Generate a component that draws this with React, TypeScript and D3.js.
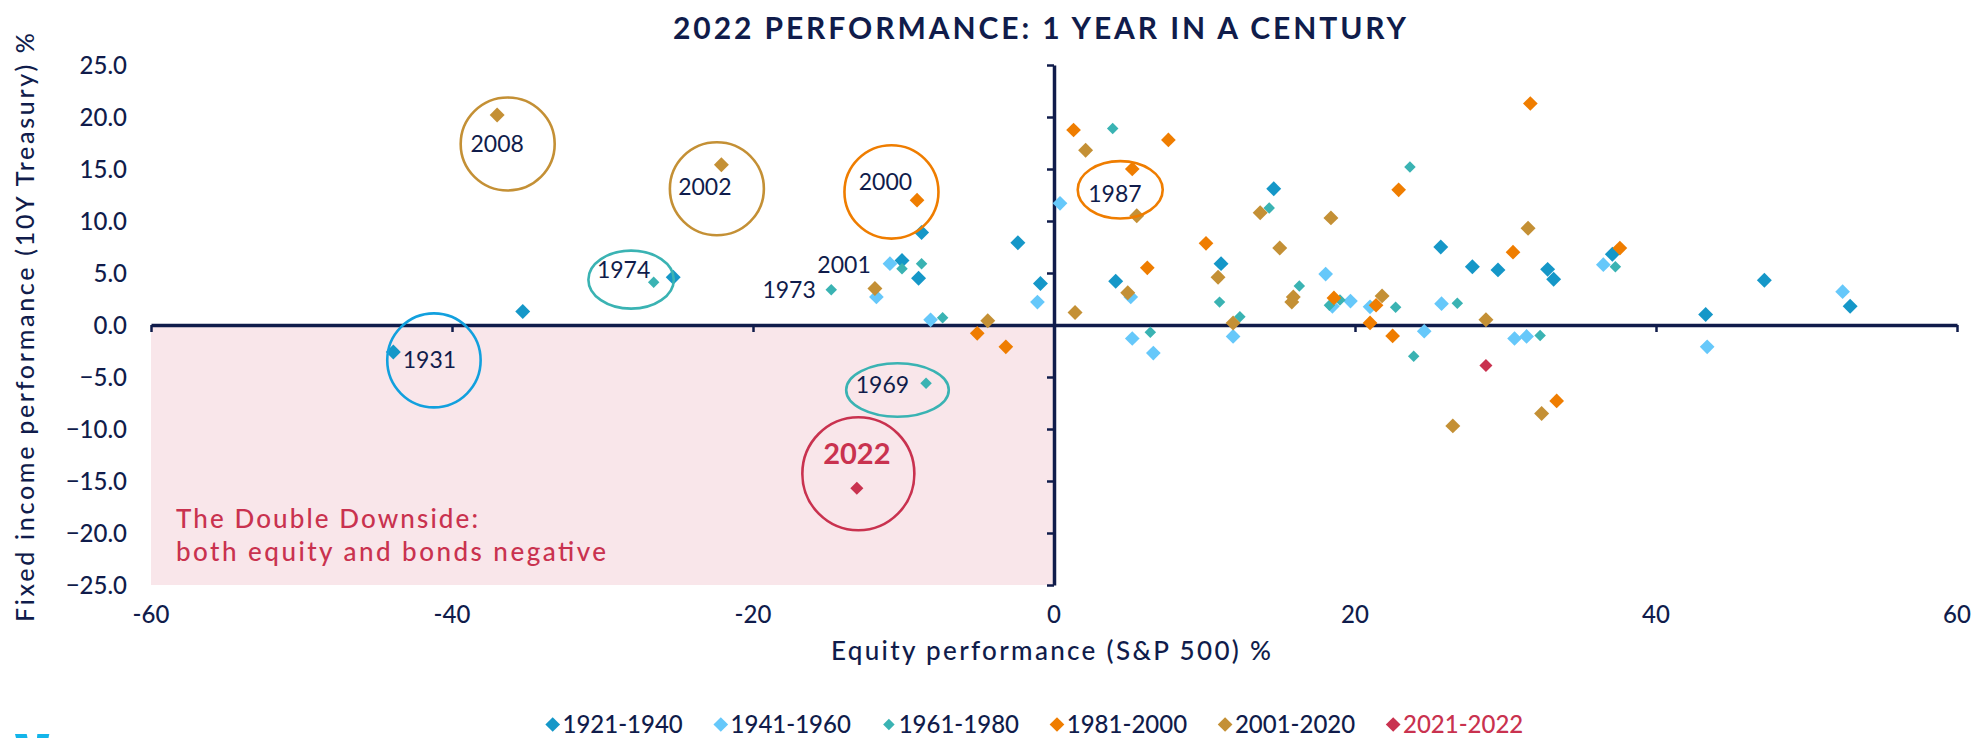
import React, { useEffect, useRef } from "react";
import * as d3 from "d3";

const NAVY = "#101c4b";
const CRIMSON = "#c9324f";

// legend / series
const seriesNames = ["1921-1940", "1941-1960", "1961-1980", "1981-2000", "2001-2020", "2021-2022"];
const seriesColors = ["#1597c8", "#66c8fa", "#3ab3b3", "#ef7d00", "#c49035", CRIMSON];

// [equity %, 10Y treasury %]
const s1921: [number, number][] = [
  [-43.9, -2.6], [-35.3, 1.3], [-25.3, 4.6], [-10.1, 6.2], [-9.0, 4.5], [-8.8, 8.9], [-2.4, 7.9],
  [-0.9, 4.0], [4.1, 4.2], [11.1, 5.9], [14.6, 13.1], [25.7, 7.5], [27.8, 5.6], [29.5, 5.3],
  [32.8, 5.35], [33.2, 4.4], [37.1, 6.8], [43.3, 1.0], [47.2, 4.3], [52.9, 1.8],
];
const s1941: [number, number][] = [
  [-10.9, 5.9], [-11.8, 2.7], [-8.2, 0.5], [-1.1, 2.2], [0.4, 11.7], [5.1, 2.7], [5.2, -1.3],
  [6.6, -2.7], [11.9, -1.1], [18.05, 4.9], [18.5, 1.8], [19.7, 2.3], [21.0, 1.75], [24.6, -0.6],
  [25.75, 2.05], [30.6, -1.3], [31.4, -1.1], [36.5, 5.8], [43.4, -2.1], [52.4, 3.2],
];
const s1961: [number, number][] = [
  [-26.6, 4.1], [-14.8, 3.4], [-10.1, 5.4], [-8.8, 5.9], [-7.4, 0.7], [-8.5, -5.6], [3.9, 18.9],
  [6.4, -0.7], [11.0, 2.2], [12.35, 0.8], [14.3, 11.25], [16.3, 3.75], [18.3, 1.9], [19.0, 2.4],
  [22.7, 1.7], [23.65, 15.2], [23.9, -3.0], [26.8, 2.1], [32.3, -1.0], [37.3, 5.6],
];
const s1981: [number, number][] = [
  [-9.1, 12.0], [-5.1, -0.8], [-3.2, -2.1], [1.3, 18.75], [5.2, 15.0], [6.2, 5.5], [7.6, 17.8],
  [10.1, 7.85], [18.6, 2.6], [21.0, 0.2], [21.4, 1.9], [22.5, -1.05], [22.9, 13.0], [30.5, 7.0],
  [31.65, 21.3], [33.4, -7.3], [37.6, 7.4],
];
const s2001: [number, number][] = [
  [-37.0, 20.2], [-22.1, 15.4], [-11.9, 3.5], [-4.4, 0.4], [1.4, 1.2], [2.1, 16.8], [4.9, 3.1],
  [5.5, 10.5], [10.9, 4.6], [11.9, 0.2], [13.7, 10.8], [15.0, 7.4], [15.9, 2.7], [15.8, 2.2],
  [18.4, 10.3], [21.8, 2.8], [26.5, -9.7], [28.7, 0.5], [31.5, 9.3], [32.4, -8.5],
];
const s2021: [number, number][] = [[28.7, -3.9], [-13.1, -15.7]];

const allSeries = [s1921, s1941, s1961, s1981, s2001, s2021];
const markerArea = [112, 108, 66, 108, 112, 85];

const xTicks = [-60, -40, -20, 0, 20, 40, 60];
const yTicks = d3.range(-25, 26, 5);

// circled / labelled years (label and ellipse centre in data units, radii in px)
const callouts = [
  { text: "2008", lx: -37.0, ly: 17.4, cx: -36.3, cy: 17.4, rx: 47, ry: 46.5, color: "#c49035" },
  { text: "2002", lx: -23.2, ly: 13.3, cx: -22.4, cy: 13.1, rx: 47, ry: 46.5, color: "#c49035" },
  { text: "2000", lx: -11.2, ly: 13.8, cx: -10.8, cy: 12.8, rx: 47, ry: 46.7, color: "#ef7d00" },
  { text: "1974", lx: -28.6, ly: 5.36, cx: -28.1, cy: 4.36, rx: 42.7, ry: 29, color: "#3ab3b3" },
  { text: "1987", lx: 4.05, ly: 12.6, cx: 4.4, cy: 13.0, rx: 42.5, ry: 28.7, color: "#ef7d00" },
  { text: "1931", lx: -41.5, ly: -3.3, cx: -41.2, cy: -3.4, rx: 46.7, ry: 47, color: "#12a0de" },
  { text: "1969", lx: -11.4, ly: -5.7, cx: -10.4, cy: -6.25, rx: 51.3, ry: 26.7, color: "#3ab3b3" },
  { text: "2001", lx: -13.95, ly: 5.77 },
  { text: "1973", lx: -17.6, ly: 3.37 },
];

export default function App() {
  const ref = useRef<SVGSVGElement>(null);

  useEffect(() => {
    const svg = d3.select(ref.current);
    svg.selectAll("*").remove();

    const x = d3.scaleLinear().domain([-60, 60]).range([151, 1957]);
    const y = d3.scaleLinear().domain([-25, 25]).range([585, 65]);
    const diamond = (area: number) => d3.symbol(d3.symbolSquare, area)();

    // double downside quadrant
    svg.append("rect")
      .attr("x", x(-60)).attr("y", y(0))
      .attr("width", x(0) - x(-60)).attr("height", y(-25) - y(0))
      .attr("fill", "#f9e6ea");

    svg.append("text")
      .attr("x", 176).attr("y", 528)
      .attr("fill", CRIMSON).attr("font-size", 26).attr("font-weight", 500)
      .attr("textLength", 302)
      .text("The Double Downside:");
    svg.append("text")
      .attr("x", 176).attr("y", 561)
      .attr("fill", CRIMSON).attr("font-size", 26).attr("font-weight", 500)
      .attr("textLength", 430)
      .text("both equity and bonds negative");

    // axes crossing at 0,0
    const xAxis = svg.append("g")
      .attr("transform", `translate(0,${y(0)})`)
      .call(d3.axisBottom(x).tickValues(xTicks).tickSize(7).tickSizeOuter(0).tickFormat(() => ""));
    const yAxis = svg.append("g")
      .attr("transform", `translate(${x(0)},0)`)
      .call(d3.axisLeft(y).tickValues(yTicks).tickSize(7).tickSizeOuter(0).tickFormat(() => ""));
    [xAxis, yAxis].forEach(a => {
      a.select(".domain").attr("stroke", NAVY).attr("stroke-width", 3.5);
      a.selectAll(".tick line").attr("stroke", NAVY).attr("stroke-width", 2.5);
    });

    // tick labels sit at the chart edges
    svg.append("g").selectAll("text").data(xTicks).join("text")
      .attr("x", d => x(d)).attr("y", 623)
      .attr("text-anchor", "middle").attr("fill", NAVY)
      .attr("font-size", 24).attr("font-weight", 500)
      .text(d => String(d));
    svg.append("g").selectAll("text").data(yTicks).join("text")
      .attr("x", 127).attr("y", d => y(d)).attr("dy", "0.36em")
      .attr("text-anchor", "end").attr("fill", NAVY)
      .attr("font-size", 24).attr("font-weight", 500)
      .text(d => d3.format(".1f")(d));

    // points
    allSeries.forEach((pts, i) => {
      svg.append("g").selectAll("path").data(pts).join("path")
        .attr("d", diamond(markerArea[i]))
        .attr("transform", d => `translate(${x(d[0])},${y(d[1])}) rotate(45)`)
        .attr("fill", seriesColors[i]);
    });

    // callouts
    callouts.forEach(c => {
      if (c.color) {
        svg.append("ellipse")
          .attr("cx", x(c.cx)).attr("cy", y(c.cy)).attr("rx", c.rx).attr("ry", c.ry)
          .attr("fill", "none").attr("stroke", c.color).attr("stroke-width", 2.6);
      }
      svg.append("text")
        .attr("x", x(c.lx)).attr("y", y(c.ly)).attr("dy", "0.36em")
        .attr("text-anchor", "middle").attr("fill", NAVY)
        .attr("font-size", 23).attr("font-weight", 400)
        .text(c.text);
    });

    // 2022 highlight
    svg.append("ellipse")
      .attr("cx", x(-13.0)).attr("cy", y(-14.3)).attr("rx", 56).attr("ry", 56.5)
      .attr("fill", "none").attr("stroke", CRIMSON).attr("stroke-width", 2.6);
    svg.append("text")
      .attr("x", x(-13.1)).attr("y", y(-12.4)).attr("dy", "0.36em")
      .attr("text-anchor", "middle").attr("fill", CRIMSON)
      .attr("font-size", 29).attr("font-weight", 700)
      .text("2022");

    // titles
    svg.append("text")
      .attr("x", 1039.5).attr("y", 39)
      .attr("text-anchor", "middle").attr("fill", NAVY)
      .attr("font-size", 30).attr("font-weight", 700)
      .attr("textLength", 733)
      .text("2022 PERFORMANCE: 1 YEAR IN A CENTURY");
    svg.append("text")
      .attr("x", 1051).attr("y", 660)
      .attr("text-anchor", "middle").attr("fill", NAVY)
      .attr("font-size", 26).attr("font-weight", 500)
      .attr("textLength", 440)
      .text("Equity performance (S&P 500) %");
    svg.append("text")
      .attr("transform", "translate(34,327.5) rotate(-90)")
      .attr("text-anchor", "middle").attr("fill", NAVY)
      .attr("font-size", 25).attr("font-weight", 500)
      .attr("textLength", 589)
      .text("Fixed income performance (10Y Treasury) %");

    // legend, laid out left to right from measured text widths
    let lx = 545.7;
    seriesNames.forEach((name, i) => {
      svg.append("path")
        .attr("d", diamond(i === 2 ? 66 : 108))
        .attr("transform", `translate(${lx + 7},724.5) rotate(45)`)
        .attr("fill", seriesColors[i]);
      const t = svg.append("text")
        .attr("x", lx + 16.8).attr("y", 732.5)
        .attr("fill", i === 5 ? CRIMSON : NAVY)
        .attr("font-size", 24).attr("font-weight", 500)
        .text(name);
      const w = (t.node() as SVGTextElement).getComputedTextLength();
      lx = lx + 16.8 + w + 31;
    });

    // cut-off logo at the bottom left
    svg.append("path").attr("d", "M15,734 L26.7,734 L27.5,738 L16,738 Z").attr("fill", "#13b5ea");
    svg.append("path").attr("d", "M37.3,734 L49.3,734 L48.5,738 L37,738 Z").attr("fill", "#13b5ea");
  }, []);

  return (
    <svg
      ref={ref}
      width={1977}
      height={738}
      style={{ position: "absolute", left: 0, top: 0, fontFamily: "Lato, 'Open Sans', sans-serif", background: "#fff" }}
    />
  );
}
